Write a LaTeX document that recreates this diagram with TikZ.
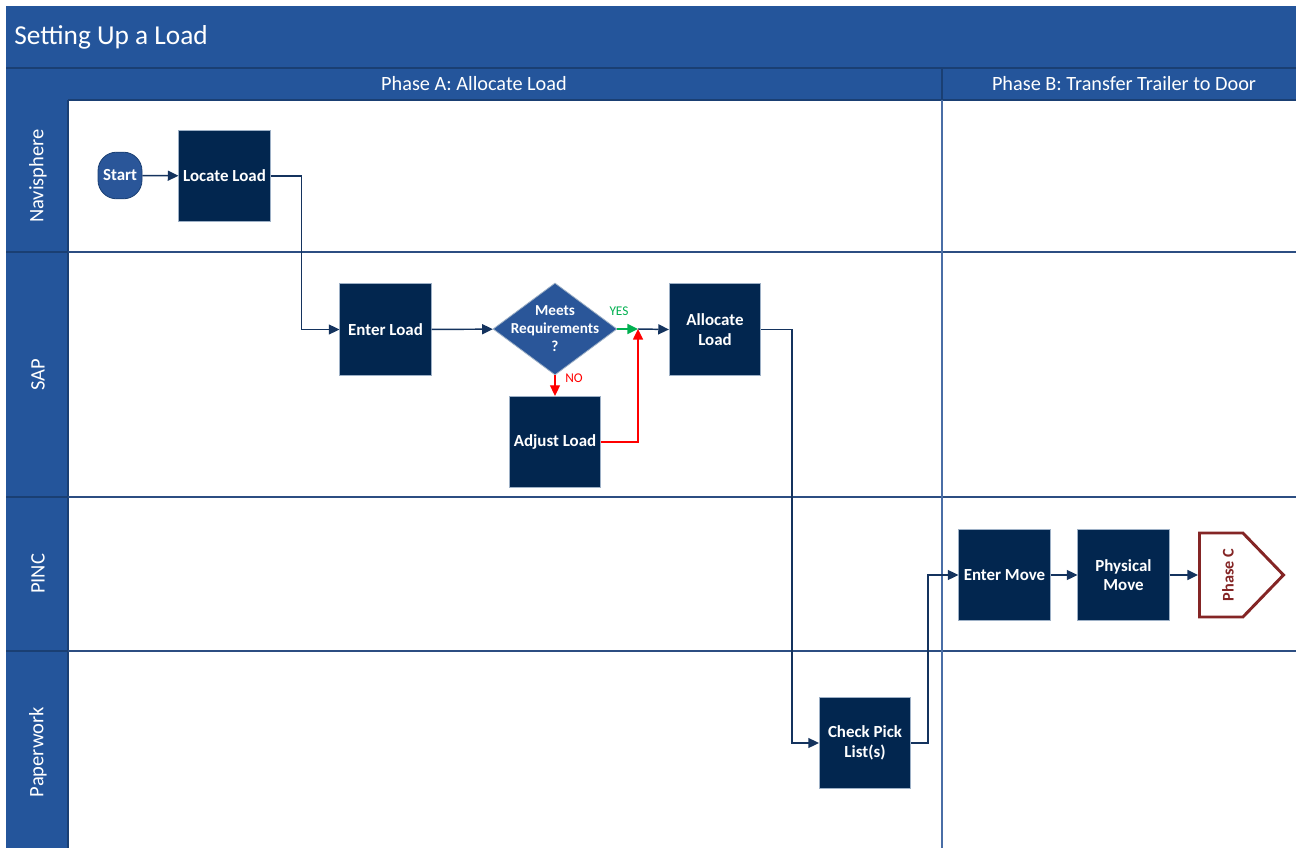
\documentclass[tikz,border=0pt]{standalone}
\usepackage{fontspec}
\setmainfont{Carlito}
\usetikzlibrary{arrows.meta,shapes.geometric,shapes.symbols}
\definecolor{hdr}{HTML}{24559B}
\definecolor{hdrline}{HTML}{1A3F73}
\definecolor{dark}{HTML}{02264F}
\definecolor{mid}{HTML}{2A5699}
\definecolor{ln}{HTML}{14335E}
\definecolor{sep}{HTML}{2C4E82}
\definecolor{vsep}{HTML}{4A6EA6}
\definecolor{yesg}{HTML}{00B050}
\definecolor{nored}{HTML}{FF0000}
\definecolor{phc}{HTML}{842525}
\definecolor{boxedge}{HTML}{9DB0C6}
\begin{document}
\begin{tikzpicture}[x=0.75pt,y=-0.75pt,
  stepbox/.style={rectangle,fill=dark,draw=boxedge,line width=0.6pt,minimum width=68.5pt,minimum height=68.5pt,
    text=white,font=\fontsize{12.7}{14.5}\selectfont\bfseries,align=center,inner sep=1pt},
  startbox/.style={rectangle,rounded corners=14pt,fill=mid,draw=hdrline,line width=0.6pt,minimum width=33pt,minimum height=35pt,
    text=white,font=\fontsize{12.7}{14.5}\selectfont\bfseries,inner sep=0pt},
  decbox/.style={diamond,fill=mid,draw=boxedge,line width=0.6pt,minimum width=93pt,minimum height=69pt,inner sep=0pt},
  arr/.style={draw=ln,line width=1.1pt,-{Triangle[length=8pt,width=7.5pt]}},
  yesarr/.style={draw=yesg,line width=1.1pt,-{Triangle[length=8pt,width=7.5pt]}},
  noarr/.style={draw=nored,line width=1.1pt,-{Triangle[length=8pt,width=7.5pt]}},
  hdrtext/.style={text=white,font=\fontsize{15.2}{17}\selectfont,inner sep=0pt},
  lanetext/.style={text=white,font=\fontsize{15.4}{17}\selectfont,inner sep=0pt,rotate=90},
  lanesep/.style={draw=sep,line width=0.8pt}
]
\useasboundingbox (0,0) rectangle (1296,848);
\fill[white] (0,0) rectangle (1296,848);
% frame
\fill[hdr] (6,6) rectangle (1296,100);
\fill[hdr] (6,100) rectangle (68,848);
\draw[hdrline,line width=0.8pt] (6,68) -- (1296,68);
\draw[hdrline,line width=0.8pt] (68,100) -- (1296,100);
\draw[hdrline,line width=0.8pt] (68,100) -- (68,848);
\draw[hdrline,line width=0.8pt] (6,252) -- (68,252);
\draw[hdrline,line width=0.8pt] (6,497) -- (68,497);
\draw[hdrline,line width=0.8pt] (6,651) -- (68,651);
\draw[lanesep] (68,252) -- (1296,252);
\draw[lanesep] (68,497) -- (1296,497);
\draw[lanesep] (68,651) -- (1296,651);
\draw[vsep,line width=0.9pt] (942,68) -- (942,848);
\draw[hdrline,line width=0.8pt] (942,68) -- (942,100);
% titles
\node[text=white,font=\fontsize{20.5}{23}\selectfont,anchor=west,inner sep=0pt] (title) at (14,37.5) {Setting Up a Load};
\node[hdrtext] (phA) at (474,84) {Phase A: Allocate Load};
\node[hdrtext] (phB) at (1124,84) {Phase B: Transfer Trailer to Door};
\node[lanetext] (l1) at (38,176) {Navisphere};
\node[lanetext] (l2) at (38,375) {SAP};
\node[lanetext] (l3) at (38,574) {PINC};
\node[lanetext] (l4) at (38,752) {Paperwork};
% nodes
\node[startbox] (start) at (120,175.5) {Start};
\node[stepbox] (loc) at (224.5,176) {Locate Load};
\node[stepbox] (ent) at (385.5,329.5) {Enter Load};
\node[decbox] (dec) at (555,329) {};
\node[text=white,font=\fontsize{11.4}{13.5}\selectfont\bfseries,align=center,inner sep=0pt] (dectext) at (555,329) {Meets\\Requirements\\?};
\node[stepbox] (alloc) at (715,329.5) {Allocate\\Load};
\node[stepbox] (adj) at (555,442) {Adjust Load};
\node[stepbox] (chk) at (865,743) {Check Pick\\List(s)};
\node[stepbox] (em) at (1004.5,575) {Enter Move};
\node[stepbox] (pm) at (1123.5,575) {Physical\\Move};
\node[signal,signal to=east,signal pointer angle=92,draw=phc,line width=2.2pt,fill=white,
  minimum width=63pt,minimum height=63pt,inner sep=0pt,anchor=west] (phc) at (1198,575) {};
\node[rotate=90,text=phc,font=\fontsize{12.2}{14}\selectfont\bfseries,inner sep=0pt] (phctext) at (1228,575) {Phase C};
\coordinate (j) at (638,329);
% connectors
\draw[arr] (start) -- (loc);
\draw[arr] (loc.east) -- ++(31,0) |- (ent.west);
\draw[arr] (ent) -- (dec);
\draw[yesarr] (dec.east) -- (j);
\draw[arr] (j) -- (alloc.west);
\draw[noarr] (dec.south) -- (adj.north);
\draw[noarr] (adj.east) -| (j);
\draw[arr] (alloc.east) -- ++(31,0) |- (chk.west);
\draw[arr] (chk.east) -- ++(17,0) |- (em.west);
\draw[arr] (em) -- (pm);
\draw[arr] (pm.east) -- (phc.west);
% labels
\node[text=yesg,font=\fontsize{10}{12}\selectfont,inner sep=0pt] (yes) at (619,311) {YES};
\node[text=nored,font=\fontsize{10}{12}\selectfont,inner sep=0pt] (no) at (574,378) {NO};
\end{tikzpicture}
\end{document}
